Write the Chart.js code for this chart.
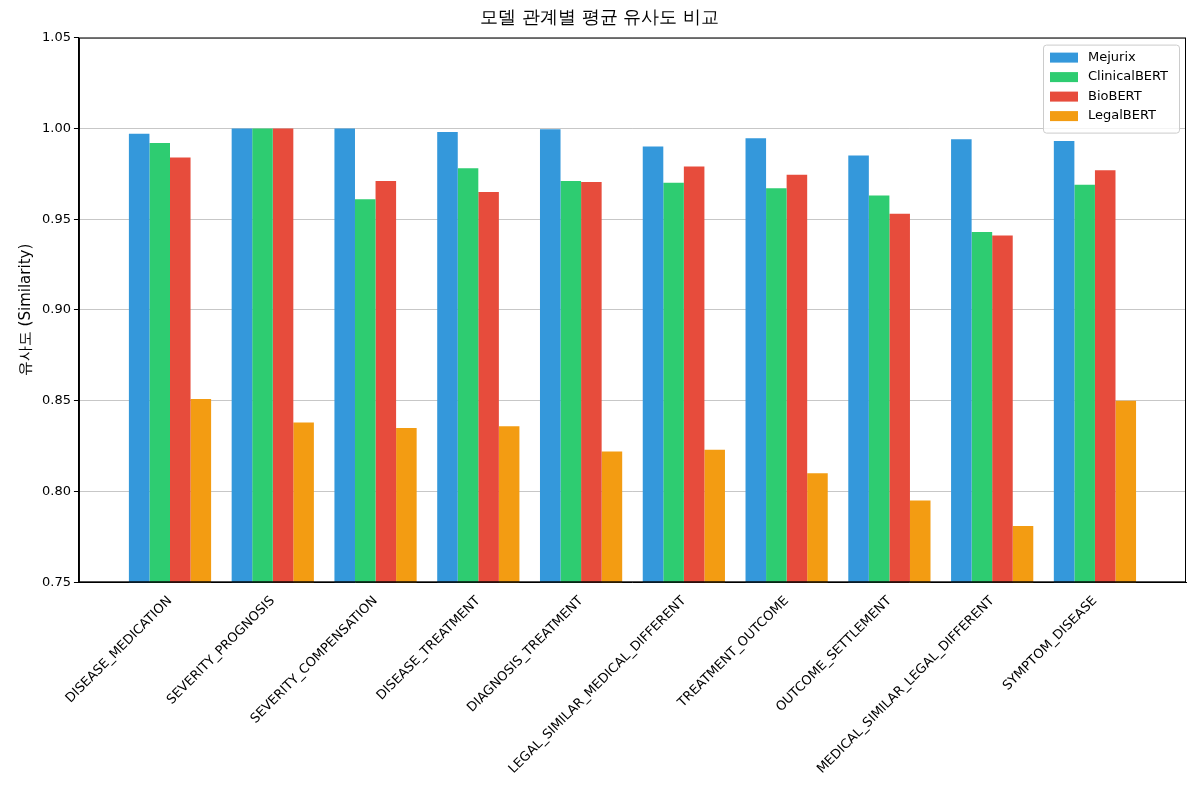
<!DOCTYPE html>
<html>
<head>
<meta charset="utf-8">
<script src="https://cdn.jsdelivr.net/npm/chart.js@4.4.1/dist/chart.umd.min.js"></script>
<style>
  html, body { margin: 0; padding: 0; background: #fff; }
  #wrap { width: 1200px; height: 800px; }
</style>
</head>
<body>
<div id="wrap"><canvas id="c" width="1200" height="800"></canvas></div>
<script>
// ─── Data ───
const categories = [
  'DISEASE_MEDICATION', 'SEVERITY_PROGNOSIS', 'SEVERITY_COMPENSATION', 'DISEASE_TREATMENT',
  'DIAGNOSIS_TREATMENT', 'LEGAL_SIMILAR_MEDICAL_DIFFERENT', 'TREATMENT_OUTCOME',
  'OUTCOME_SETTLEMENT', 'MEDICAL_SIMILAR_LEGAL_DIFFERENT', 'SYMPTOM_DISEASE',
];
const mejurix      = [0.997, 1.000, 1.000, 0.998, 0.9995, 0.990, 0.9945, 0.985, 0.994, 0.993];
const clinicalBert = [0.992, 1.000, 0.961, 0.978, 0.971, 0.970, 0.967, 0.963, 0.943, 0.969];
const bioBert      = [0.984, 1.000, 0.971, 0.965, 0.9705, 0.979, 0.9745, 0.953, 0.941, 0.977];
const legalBert    = [0.851, 0.838, 0.835, 0.836, 0.822, 0.823, 0.810, 0.795, 0.781, 0.850];
const yTicks = [0.75, 0.80, 0.85, 0.90, 0.95, 1.00, 1.05];

const FONT = 'DejaVu Sans';

// legend inside plot (top right) + full axes frame
const innerLegend = {
  id: 'innerLegend',
  afterDraw(chart) {
    const { ctx, chartArea } = chart;
    const sets = chart.data.datasets;
    ctx.save();
    ctx.strokeStyle = '#000';
    ctx.lineWidth = 1;
    ctx.strokeRect(chartArea.left + 0.5, chartArea.top + 0.5,
      chartArea.right - chartArea.left - 1, chartArea.bottom - chartArea.top - 1);

    const w = 136, h = 88;
    const x = chartArea.right - w - 7, y = chartArea.top + 7;
    ctx.fillStyle = 'rgba(255,255,255,0.8)';
    ctx.strokeStyle = '#ccc';
    ctx.beginPath();
    ctx.roundRect(x + 0.5, y + 0.5, w, h, 3);
    ctx.fill(); ctx.stroke();
    ctx.font = '13px ' + FONT;
    ctx.textBaseline = 'middle';
    sets.forEach((d, i) => {
      const ly = y + 13 + i * 19.5;
      ctx.fillStyle = d.backgroundColor;
      ctx.fillRect(x + 7, ly - 5, 28, 10);
      ctx.fillStyle = '#000';
      ctx.fillText(d.label, x + 45, ly);
    });
    ctx.restore();
  },
};

new Chart(document.getElementById('c'), {
  type: 'bar',
  data: {
    labels: categories,
    datasets: [
      { label: 'Mejurix', data: mejurix, backgroundColor: '#3498db' },
      { label: 'ClinicalBERT', data: clinicalBert, backgroundColor: '#2ecc71' },
      { label: 'BioBERT', data: bioBert, backgroundColor: '#e74c3c' },
      { label: 'LegalBERT', data: legalBert, backgroundColor: '#f39c12' },
    ],
  },
  options: {
    responsive: false,
    animation: false,
    layout: { padding: { left: 13, right: 14, top: 6, bottom: 20 } },
    datasets: { bar: { categoryPercentage: 0.8, barPercentage: 1.0 } },
    plugins: {
      legend: { display: false },
      tooltip: { enabled: false },
      title: {
        display: true,
        text: '모델 관계별 평균 유사도 비교',
        color: '#000',
        font: { family: FONT, size: 18, weight: 'normal' },
        padding: { top: 2, bottom: 8 },
      },
    },
    scales: {
      x: {
        offset: false,
        // matplotlib-style side margins around the bar groups
        afterBuildTicks: axis => {
          axis.ticks = categories.map((_, i) => ({ value: i }));
          axis._startValue = -0.886;
          axis._valueRange = 10.772;
        },
        grid: { display: false },
        border: { color: '#000' },
        ticks: {
          color: '#000',
          font: { family: FONT, size: 13 },
          maxRotation: 45, minRotation: 45,
          autoSkip: false,
        },
      },
      y: {
        min: 0.75, max: 1.05,
        afterBuildTicks: axis => { axis.ticks = yTicks.map(v => ({ value: v })); },
        grid: { color: 'rgba(0,0,0,0.22)', tickLength: 5, borderDash: [4, 3], tickBorderDash: [] , tickColor: '#000' },
        border: { color: '#000' },
        ticks: {
          color: '#000',
          font: { family: FONT, size: 13 },
          callback: v => v.toFixed(2),
        },
        title: {
          display: true,
          text: '유사도 (Similarity)',
          color: '#000',
          font: { family: FONT, size: 15 },
        },
      },
    },
  },
  plugins: [innerLegend],
});
</script>
</body>
</html>
